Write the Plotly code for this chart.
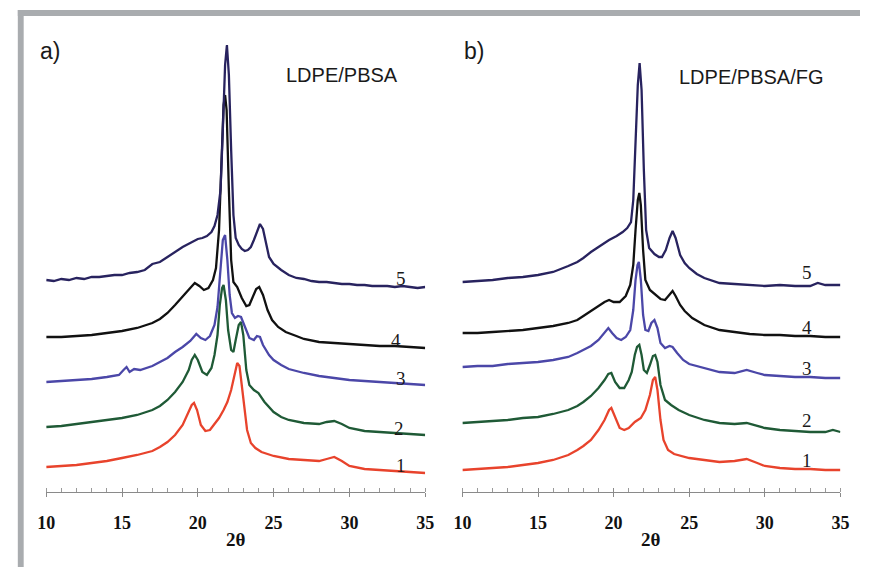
import plotly.graph_objects as go

# ---------------- data (2θ, intensity a.u., stacked) ----------------
# Panel a) LDPE/PBSA
a5_x = [10,10.5,11,11.5,12,12.5,13,13.5,14,14.5,15,15.5,16,16.5,17,17.5,18,18.5,19,19.5,20,20.3,20.6,20.9,21.1,21.3,21.5,21.65,21.8,21.92,22.05,22.2,22.35,22.5,22.7,22.9,23.1,23.3,23.5,23.7,23.9,24.1,24.3,24.5,24.7,25,25.5,26,26.5,27,27.5,28,28.5,29,29.5,30,30.5,31,31.5,32,32.5,33,33.5,34,34.5,35]
a5_y = [220,219,221,220,222,221,223,223,224,225,225,227,228,230,236,238,243,248,253,257,261,262,264,268,274,285,310,370,435,455,425,350,285,262,255,251,249,250,253,260,268,276,271,257,243,236,230,225,222,221,219,218,218,217,216,216,215,215,214,214,214,213,214,213,212,213]

a4_x = [10,11,12,13,14,15,16,17,17.5,18,18.5,19,19.5,19.8,20.1,20.4,20.7,21.0,21.2,21.4,21.55,21.7,21.8,21.9,22.05,22.2,22.35,22.6,22.9,23.2,23.4,23.6,23.85,24.05,24.3,24.6,24.9,25.3,25.8,26.5,27,28,29,30,31,32,33,34,35]
a4_y = [163,163,164,165,167,169,172,177,181,187,195,204,212,217,214,210,212,220,232,270,340,395,405,390,310,240,218,213,202,194,195,202,211,213,205,190,180,173,168,164,161,158,157,156,155,154,154,153,152]

a3_x = [10,11,12,13,14,14.8,15.1,15.3,15.5,15.8,16.2,17,17.5,18,18.5,19,19.5,19.9,20.2,20.5,20.8,21.1,21.3,21.5,21.65,21.8,21.95,22.1,22.25,22.45,22.65,22.85,23.1,23.4,23.7,23.9,24.1,24.3,24.7,25,25.5,26,27,28,29,30,31,32,33,34,35]
a3_y = [118,119,120,121,123,125,130,133,128,131,130,134,138,142,148,153,159,166,162,160,164,175,193,230,260,265,240,205,187,182,184,183,173,162,160,164,163,155,145,140,135,131,127,124,122,120,119,118,117,116,115]

a2_x = [10,11,12,13,14,15,16,17,17.5,18,18.5,19,19.4,19.6,19.8,20.0,20.3,20.6,20.9,21.1,21.3,21.45,21.6,21.7,21.85,22.0,22.2,22.35,22.5,22.7,22.85,23.0,23.2,23.4,23.7,24.0,24.4,25,25.5,26,27,28,28.5,29,29.5,30,31,32,33,34,35]
a2_y = [73,74,76,78,80,82,85,90,94,100,108,118,130,140,145,140,128,125,132,145,165,195,212,215,200,170,150,148,160,175,178,165,130,115,110,107,98,88,83,80,77,76,78,79,76,72,69,68,67,66,65]

a1_x = [10,11,12,13,14,15,16,17,17.5,18,18.5,19,19.4,19.6,19.75,19.95,20.2,20.5,20.8,21.1,21.4,21.7,21.95,22.2,22.4,22.6,22.75,22.9,23.05,23.25,23.5,23.8,24.2,25,26,27,28,28.5,29,29.5,30,31,32,33,34,35]
a1_y = [33,34,35,37,39,42,45,49,53,58,65,75,88,95,97,90,75,69,70,76,82,90,98,110,125,137,134,115,90,70,57,52,48,44,41,40,39,41,43,39,34,31,30,29,28,27]

# Panel b) LDPE/PBSA/FG
b5_x = [10,11,12,13,14,15,16,17,17.6,18,18.5,19,19.7,20.2,20.6,20.9,21.15,21.3,21.45,21.6,21.72,21.85,22.0,22.15,22.35,22.7,23.0,23.2,23.45,23.7,23.9,24.1,24.4,24.7,25,25.5,26,27,28,29,30,31,32,33,33.5,34,35]
b5_y = [218,219,220,222,223,225,228,234,238,242,248,253,260,264,268,272,278,300,350,415,437,410,330,270,252,246,243,243,250,262,269,262,245,237,232,226,222,217,216,215,214,215,214,214,217,215,215]

b4_x = [10,11,12,13,14,15,16,17,17.6,18,18.5,19,19.4,19.7,20.0,20.4,20.8,21.1,21.3,21.45,21.6,21.7,21.8,21.95,22.1,22.4,22.8,23.1,23.4,23.7,23.9,24.1,24.4,24.7,25.2,26,27,28,29,30,31,32,33,34,35]
b4_y = [167,167,168,169,170,172,174,177,180,184,189,194,198,200,198,198,204,215,235,270,300,307,295,250,220,210,205,201,200,205,209,204,195,189,182,175,170,168,166,165,165,164,164,163,163]

b3_x = [10,11,12,13,14,15,16,17,17.6,18,18.5,19,19.4,19.65,19.9,20.2,20.5,20.8,21.1,21.3,21.45,21.58,21.67,21.8,21.95,22.1,22.3,22.5,22.7,22.9,23.1,23.4,23.7,23.9,24.2,24.6,25,26,27,28,28.8,29.5,30,31,32,33,34,35]
b3_y = [133,134,134,136,137,138,140,143,147,150,154,160,167,172,167,162,160,163,170,190,220,235,238,220,185,170,169,177,180,172,157,152,154,153,147,140,136,132,128,127,130,127,125,124,123,123,122,122]

b2_x = [10,11,12,13,14,15,16,17,17.6,18,18.5,19,19.4,19.65,19.85,20.1,20.4,20.7,21.0,21.2,21.4,21.55,21.7,21.85,22.0,22.2,22.4,22.6,22.75,22.9,23.1,23.4,23.8,24.3,25,26,27,28,28.8,29.5,30,31,32,33,34,34.5,35]
b2_y = [77,78,79,80,82,83,86,90,94,98,104,112,120,126,127,118,112,112,120,128,145,153,155,145,130,127,135,144,145,138,115,100,95,90,85,80,77,76,77,74,72,70,69,68,68,70,68]

b1_x = [10,11,12,13,14,15,16,17,17.6,18,18.5,19,19.4,19.7,19.85,20.1,20.4,20.7,21.0,21.4,21.8,22.1,22.4,22.6,22.75,22.9,23.1,23.3,23.6,24,25,26,27,28,28.8,29.5,30,31,32,33,34,35]
b1_y = [30,31,32,33,35,37,40,45,50,54,60,70,80,90,92,82,72,70,72,78,82,90,105,120,123,110,80,60,50,46,42,40,38,39,41,37,34,32,31,31,30,30]

curve_labels = ["1", "2", "3", "4", "5"]
a_label_pos = [(33.4, 35), (33.25, 72), (33.4, 122), (33.1, 160), (33.4, 222)]
b_label_pos = [(32.8, 40), (32.8, 80), (32.8, 132), (32.8, 173), (32.8, 228)]

tick_vals = [10, 15, 20, 25, 30, 35]
tick_text = ["10", "15", "20", "25", "30", "35"]
panel_titles = ["LDPE/PBSA", "LDPE/PBSA/FG"]
panel_tags = ["a)", "b)"]
x_title = "2θ"

colors = ["#e8432c", "#1f5a36", "#4b47a8", "#111111", "#28235f"]

# ---------------- figure ----------------
W, H = 869, 567
fig = go.Figure()

a_series = [(a1_x, a1_y), (a2_x, a2_y), (a3_x, a3_y), (a4_x, a4_y), (a5_x, a5_y)]
b_series = [(b1_x, b1_y), (b2_x, b2_y), (b3_x, b3_y), (b4_x, b4_y), (b5_x, b5_y)]

for i, (xs, ys) in enumerate(a_series):
    fig.add_trace(go.Scatter(x=xs, y=ys, mode="lines", xaxis="x", yaxis="y",
                             line=dict(color=colors[i], width=2.3), showlegend=False,
                             hoverinfo="skip"))
for i, (xs, ys) in enumerate(b_series):
    fig.add_trace(go.Scatter(x=xs, y=ys, mode="lines", xaxis="x2", yaxis="y2",
                             line=dict(color=colors[i], width=2.3), showlegend=False,
                             hoverinfo="skip"))

y_dom = [(H - 492) / H, (H - 30) / H]
y_rng = [8, 470]
xa_dom = [38 / W, 425 / W]
xb_dom = [463 / W, 849 / W]

def xaxis_main(dom, anchor):
    return dict(domain=dom, range=[10, 35], anchor=anchor,
                showgrid=False, zeroline=False,
                showline=True, linecolor="#8a8a8a", linewidth=1,
                ticks="outside", ticklen=4, tickcolor="#8a8a8a", tickwidth=1,
                tickvals=tick_vals, ticktext=tick_text,
                tickfont=dict(family="Liberation Serif", size=18, color="#111111", weight="bold"),
                ticklabelstandoff=10,
                minor=dict(dtick=1, ticks="inside", ticklen=4, tickcolor="#9a9a9a", tickwidth=1))

def xaxis_over(dom, anchor, overlay):
    return dict(domain=dom, range=[10, 35], anchor=anchor, overlaying=overlay,
                showgrid=False, zeroline=False, showline=False,
                ticks="inside", ticklen=4, tickcolor="#8a8a8a", tickwidth=1,
                tickvals=tick_vals, showticklabels=False)

def yaxis(anchor):
    return dict(domain=y_dom, range=y_rng, anchor=anchor, visible=False,
                showgrid=False, zeroline=False)

fig.update_layout(
    width=W, height=H,
    margin=dict(l=0, r=0, t=0, b=0),
    paper_bgcolor="white", plot_bgcolor="rgba(0,0,0,0)",
    xaxis=xaxis_main(xa_dom, "y"),
    xaxis2=xaxis_main(xb_dom, "y2"),
    xaxis3=xaxis_over(xa_dom, "y", "x"),
    xaxis4=xaxis_over(xb_dom, "y2", "x2"),
    yaxis=yaxis("x"),
    yaxis2=yaxis("x2"),
)

# invisible traces to activate overlay axes
fig.add_trace(go.Scatter(x=[10], y=[8], xaxis="x3", yaxis="y", mode="markers",
                         marker=dict(opacity=0), showlegend=False, hoverinfo="skip"))
fig.add_trace(go.Scatter(x=[10], y=[8], xaxis="x4", yaxis="y2", mode="markers",
                         marker=dict(opacity=0), showlegend=False, hoverinfo="skip"))

lab_font = dict(family="Liberation Serif", size=19, color="#1a1a1a")
ann = []
for lab, (px, py) in zip(curve_labels, a_label_pos):
    ann.append(dict(x=px, y=py, xref="x", yref="y", text=lab, showarrow=False, font=lab_font))
for lab, (px, py) in zip(curve_labels, b_label_pos):
    ann.append(dict(x=px, y=py, xref="x2", yref="y2", text=lab, showarrow=False, font=lab_font))

tag_font = dict(family="Liberation Sans", size=23, color="#1a1a1a")
title_font = dict(family="Liberation Sans", size=20, color="#1a1a1a")
ann.append(dict(x=30 / W, y=1 - 51 / H, xref="paper", yref="paper", text=panel_tags[0],
                showarrow=False, xanchor="left", yanchor="middle", font=tag_font))
ann.append(dict(x=463 / W, y=1 - 51 / H, xref="paper", yref="paper", text=panel_tags[1],
                showarrow=False, xanchor="left", yanchor="middle", font=tag_font))
ann.append(dict(x=281 / W, y=1 - 75 / H, xref="paper", yref="paper", text=panel_titles[0],
                showarrow=False, xanchor="left", yanchor="middle", font=title_font))
ann.append(dict(x=682 / W, y=1 - 77 / H, xref="paper", yref="paper", text=panel_titles[1],
                showarrow=False, xanchor="left", yanchor="middle", font=title_font))
for cx in [(38 + 425) / 2, (463 + 849) / 2]:
    ann.append(dict(x=cx / W, y=1 - 539 / H, xref="paper", yref="paper", text=x_title,
                    showarrow=False, xanchor="center", yanchor="middle",
                    font=dict(family="Liberation Serif", size=19, color="#111111", weight="bold")))
fig.update_layout(annotations=ann)

# gray frame (top and left bars)
frame = "#a9acaf"
fig.update_layout(shapes=[
    dict(type="rect", xref="paper", yref="paper", x0=9 / W, x1=1, y0=1 - 16 / H, y1=1 - 10 / H,
         fillcolor=frame, line=dict(width=0)),
    dict(type="rect", xref="paper", yref="paper", x0=9 / W, x1=15 / W, y0=0, y1=1 - 10 / H,
         fillcolor=frame, line=dict(width=0)),
])

fig.write_html("out.html")
